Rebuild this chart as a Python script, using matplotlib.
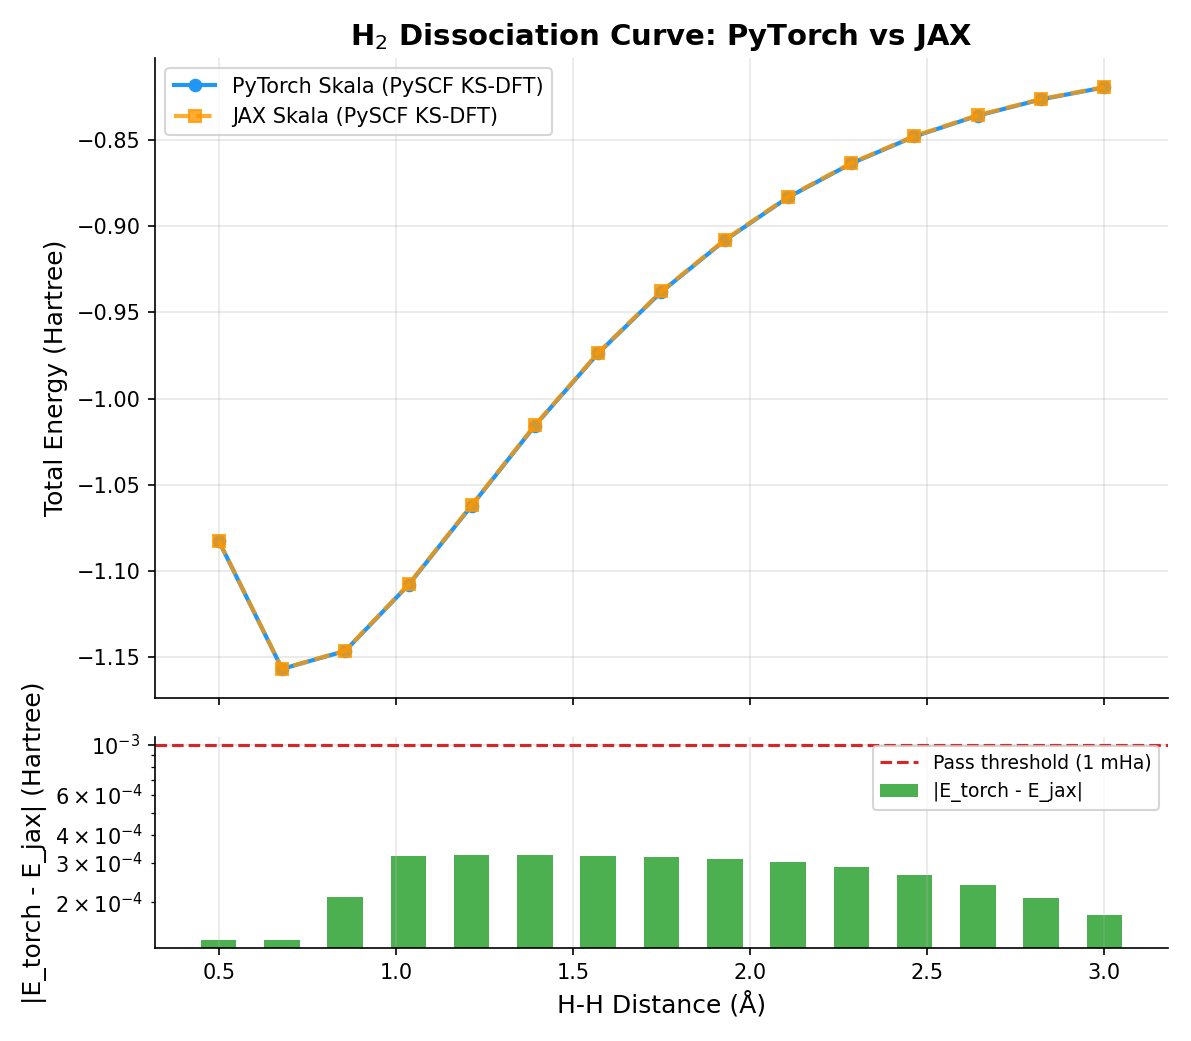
import numpy as np
import matplotlib
matplotlib.use("Agg")
import matplotlib.pyplot as plt

distances = [0.500, 0.679, 0.857, 1.036, 1.214, 1.393, 1.571, 1.750,
             1.929, 2.107, 2.286, 2.464, 2.643, 2.821, 3.000]
e_torch = [-1.0826, -1.1570, -1.1466, -1.1082, -1.0622, -1.0157, -0.9738,
           -0.9380, -0.9081, -0.8832, -0.8635, -0.8478, -0.8357, -0.8263, -0.8193]
diff = [1.355e-4, 1.355e-4, 2.10e-4, 3.20e-4, 3.23e-4, 3.23e-4, 3.20e-4,
        3.17e-4, 3.11e-4, 3.01e-4, 2.86e-4, 2.64e-4, 2.38e-4, 2.08e-4, 1.75e-4]
e_jax = [t + d for t, d in zip(e_torch, diff)]
threshold = 1e-3

fig = plt.figure(figsize=(7.94, 6.94), dpi=150)
ax1 = fig.add_axes([0.1301, 0.3295, 0.8506, 0.6148])
ax2 = fig.add_axes([0.1301, 0.0893, 0.8506, 0.2027], sharex=ax1)

ax1.plot(distances, e_torch, "-o", color="#2196F3", lw=2, ms=5.5,
         label="PyTorch Skala (PySCF KS-DFT)")
ax1.plot(distances, e_jax, "--s", color="#FF9800", lw=2, ms=5.5, alpha=0.8,
         label="JAX Skala (PySCF KS-DFT)")
ax1.set_ylabel("Total Energy (Hartree)", fontsize=12)
ax1.set_title(r"H$_2$ Dissociation Curve: PyTorch vs JAX", fontsize=14, fontweight="bold")
ax1.legend(loc="upper left", fontsize=10)
ax1.grid(True, alpha=0.3)
ax1.tick_params(labelbottom=False)
for s in ["top", "right"]:
    ax1.spines[s].set_visible(False)

ax2.bar(distances, diff, width=0.1, color="#4CAF50", label="|E_torch - E_jax|")
ax2.axhline(threshold, color="#D62728", ls="--", lw=1.5, label="Pass threshold (1 mHa)")
ax2.set_yscale("log")
ax2.set_ylim(1.25e-4, 1.086e-3)
ax2.set_xlabel("H-H Distance (Å)", fontsize=12)
ax2.set_ylabel("|E_torch - E_jax| (Hartree)", fontsize=12)
ax2.legend(loc="upper right", fontsize=9)
ax2.grid(True, alpha=0.3)
for s in ["top", "right"]:
    ax2.spines[s].set_visible(False)

fig.savefig("out.png", dpi=150)
